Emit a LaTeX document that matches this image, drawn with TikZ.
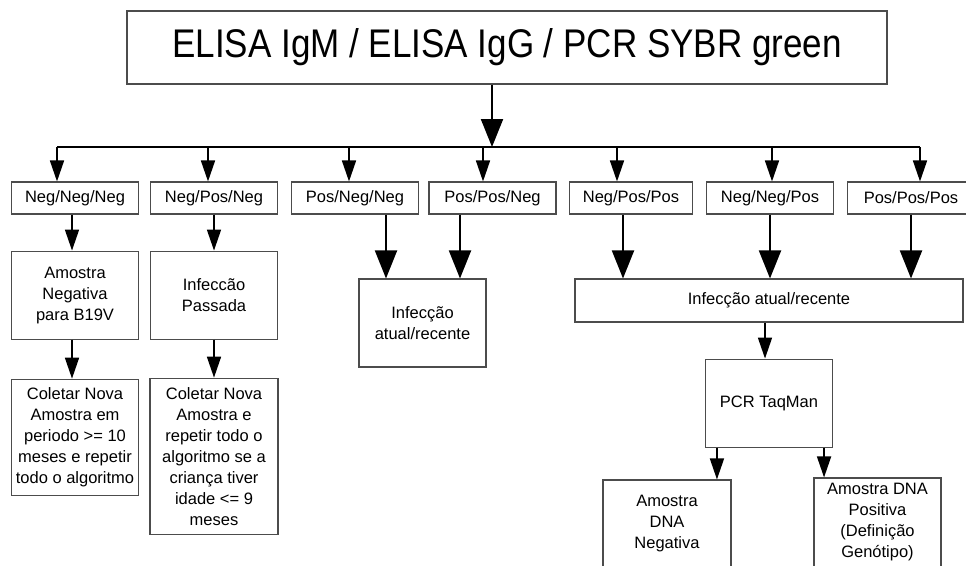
\documentclass[tikz,border=0pt]{standalone}
\usepackage{fontspec}
\setmainfont{Liberation Sans}
\usepackage{tikz}
\usetikzlibrary{arrows.meta,positioning}

\begin{document}
\begin{tikzpicture}[
    x=1pt, y=-1pt,
    box/.style={rectangle, draw=black!70, line width=1.1pt, align=center, minimum width=127pt, minimum height=32pt, inner sep=2pt, font=\fontsize{16.5}{21}\selectfont},
    tip/.style={-{Triangle[length=21pt,width=14pt]}, line width=1.6pt},
    bigtip/.style={-{Triangle[length=28pt,width=22pt]}, line width=2pt}
]
\clip (0,0) rectangle (966,565);

\node[box, minimum width=760pt, minimum height=73pt, font=\fontsize{40}{44}\selectfont] (top) at (507,47.5) {\scalebox{0.875}[1]{ELISA IgM / ELISA IgG / PCR SYBR green}};

% resultados IgM/IgG/PCR
\node[box] (nnn) at (75,198) {Neg/Neg/Neg};
\node[box] (npn) at (214,198) {Neg/Pos/Neg};
\node[box] (pnn) at (355,198) {Pos/Neg/Neg};
\node[box] (ppn) at (492.5,198) {Pos/Pos/Neg};
\node[box, minimum width=123pt] (npp) at (631,198) {Neg/Pos/Pos};
\node[box] (nnp) at (770,198) {Neg/Neg/Pos};
\node[box] (ppp) at (911,198) {Pos/Pos/Pos};

\node[box, minimum height=88pt, below=36pt of nnn] (negB19) {Amostra\\Negativa\\para B19V};
\node[box, minimum height=88pt, below=36pt of npn] (passada) {Infeccão\\Passada};
\node[box, minimum height=116pt, below=39pt of negB19] (coletaA) {Coletar Nova\\Amostra em\\periodo >= 10\\meses e repetir\\todo o algoritmo};
\node[box, minimum width=128pt, minimum height=156pt, below=38pt of passada] (coletaB) {Coletar Nova\\Amostra e\\repetir todo o\\algoritmo se a\\criança tiver\\idade <= 9\\meses};

\node[box, minimum height=88pt] (atual1) at (422.5,323) {Infecção\\atual/recente};
\node[box, minimum width=388pt, minimum height=43pt] (atual2) at (769,300.5) {Infecção atual/recente};
\node[box, minimum height=88pt, below=36pt of atual2] (taqman) {PCR TaqMan};
\node[box, minimum width=128pt, minimum height=87pt] (dnaneg) at (667,523.5) {Amostra\\DNA\\Negativa};
\node[box, minimum height=89pt] (dnapos) at (877.5,522.5) {Amostra DNA\\Positiva\\(Definição\\Genótipo)};

% barramento
\coordinate (split) at (492,147);
\coordinate (b1) at (57,147);
\coordinate (b2) at (208,147);
\coordinate (b3) at (349,147);
\coordinate (b4) at (483,147);
\coordinate (b5) at (617,147);
\coordinate (b6) at (772,147);
\coordinate (b7) at (920,147);

\draw[bigtip] (top.south -| split) -- (split);
\draw[line width=1.5pt] (b1) -- (b7);
\draw[tip] (b1) -- (b1 |- nnn.north);
\draw[tip] (b2) -- (b2 |- npn.north);
\draw[tip] (b3) -- (b3 |- pnn.north);
\draw[tip] (b4) -- (b4 |- ppn.north);
\draw[tip] (b5) -- (b5 |- npp.north);
\draw[tip] (b6) -- (b6 |- nnp.north);
\draw[tip] (b7) -- (b7 |- ppp.north);

\draw[tip] ([xshift=-3pt]nnn.south) -- ([xshift=-3pt]nnn.south |- negB19.north);
\draw[tip] ([xshift=-3pt]negB19.south) -- ([xshift=-3pt]negB19.south |- coletaA.north);
\draw[tip] (npn) -- (passada);
\draw[tip] (passada) -- (coletaB);

\draw[bigtip] ([xshift=31pt]pnn.south) -- ([xshift=31pt]pnn.south |- atual1.north);
\draw[bigtip] ([xshift=-32.5pt]ppn.south) -- ([xshift=-32.5pt]ppn.south |- atual1.north);
\draw[bigtip] ([xshift=-8pt]npp.south) -- ([xshift=-8pt]npp.south |- atual2.north);
\draw[bigtip] (nnp) -- (nnp |- atual2.north);
\draw[bigtip] (ppp.south) -- (ppp.south |- atual2.north);

\draw[tip] ([xshift=-4pt]atual2.south) -- ([xshift=-4pt]atual2.south |- taqman.north);
\draw[tip] ([xshift=12pt]taqman.south west) -- ([xshift=12pt]taqman.south west |- dnaneg.north);
\draw[tip] ([xshift=-9pt]taqman.south east) -- ([xshift=-9pt]taqman.south east |- dnapos.north);

\end{tikzpicture}
\end{document}
